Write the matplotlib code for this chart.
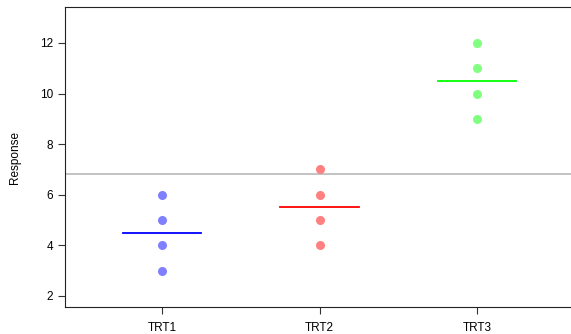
import matplotlib
matplotlib.use('Agg')
import matplotlib.pyplot as plt
import numpy as np

plt.rcParams['font.family'] = ['Liberation Sans', 'DejaVu Sans']

# data
groups = ['TRT1', 'TRT2', 'TRT3']
trt1 = [3, 4, 5, 6]
trt2 = [4, 5, 6, 7]
trt3 = [9, 10, 11, 12]
values = [trt1, trt2, trt3]
point_colors = ['#8080FF', '#FF8080', '#80FF80']
line_colors = ['#0000FF', '#FF0000', '#00FF00']
yticks = [2, 4, 6, 8, 10, 12]

W, H = 571, 334
fig = plt.figure(figsize=(W / 100, H / 100), dpi=100)
ax = fig.add_axes([65 / W, (H - 307) / H, 510 / W, 300 / H])

grand_mean = np.mean(np.concatenate(values))
ax.axhline(grand_mean, color='#BEBEBE', lw=1.3, zorder=1)

for i, (vals, pc, lc) in enumerate(zip(values, point_colors, line_colors)):
    x = i + 1
    ax.plot([x] * len(vals), vals, 'o', color=pc, ms=6.5, mec='none', zorder=3)
    m = np.mean(vals)
    ax.plot([x - 0.25, x + 0.25], [m, m], color=lc, lw=1.3, zorder=2)

ax.set_xlim(0.384, 3.622)
ax.set_ylim(1.565, 13.42)
ax.set_xticks([1, 2, 3])
ax.set_xticklabels(groups)
ax.set_yticks(yticks)
ax.tick_params(axis='both', labelsize=8.5, length=5, width=0.8, color='#333333')
ax.tick_params(axis='x', pad=6)
ax.set_ylabel('Response', fontsize=8.5, labelpad=14)
for s in ax.spines.values():
    s.set_linewidth(0.8)
    s.set_color('#222222')

fig.savefig('out.png', dpi=100)
